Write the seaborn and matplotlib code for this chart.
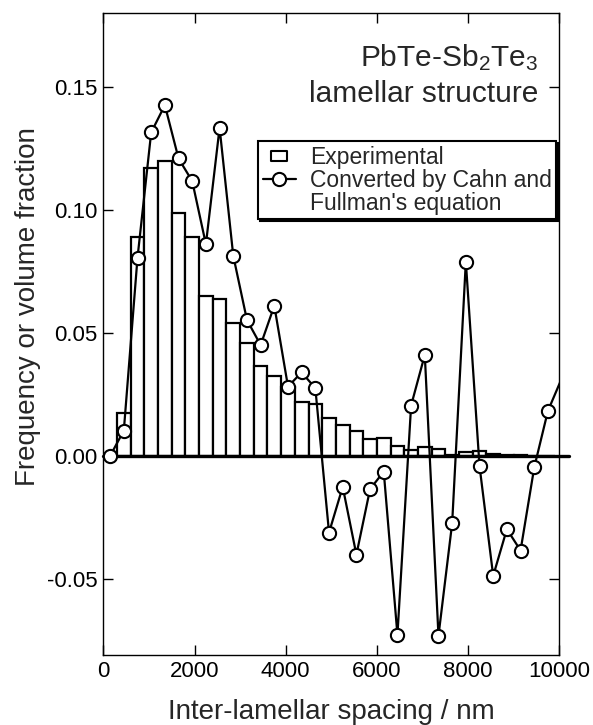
import numpy as np
import pandas as pd
import seaborn as sns
import matplotlib
matplotlib.use("Agg")
import matplotlib.pyplot as plt
from matplotlib.lines import Line2D
from matplotlib.path import Path

# ---------------- data ----------------
bin_width = 300
# Experimental histogram (bins of 300 nm starting at 0)
exp_left = [0, 300, 600, 900, 1200, 1500, 1800, 2100, 2400, 2700, 3000,
            3300, 3600, 3900, 4200, 4500, 4800, 5100, 5400, 5700, 6000,
            6300, 6600, 6900, 7200, 7500, 7800, 8100, 8400, 8700, 9000,
            9300, 9600]
exp_freq = [0.000, 0.0173, 0.0889, 0.117, 0.120, 0.0987, 0.0889, 0.065,
            0.064, 0.054, 0.0458, 0.0366, 0.0325, 0.028, 0.022, 0.021,
            0.0156, 0.0124, 0.0101, 0.0067, 0.0071, 0.0040, 0.0024, 0.0037,
            0.0028, 0.0005, 0.0017, 0.0020, 0.0008, 0.0005, 0.0002, 0.0001,
            0.0000]

# Converted by Cahn and Fullman's equation (at bin centres)
conv_x = [150, 450, 750, 1050, 1350, 1650, 1950, 2250, 2550, 2850, 3150,
          3450, 3750, 4050, 4350, 4650, 4950, 5250, 5550, 5850, 6150, 6450,
          6750, 7050, 7350, 7650, 7950, 8250, 8550, 8850, 9150, 9450, 9750,
          10050]
conv_y = [0.000, 0.0103, 0.0806, 0.1316, 0.1427, 0.121, 0.1118, 0.0861,
          0.1335, 0.0814, 0.0553, 0.0451, 0.0611, 0.0282, 0.034, 0.0275,
          -0.0312, -0.0126, -0.0402, -0.0135, -0.0064, -0.0728, 0.0205,
          0.0411, -0.0732, -0.0274, 0.079, -0.0041, -0.0488, -0.0298,
          -0.0385, -0.0047, 0.0183, 0.0314]

x_ticks = [0, 2000, 4000, 6000, 8000, 10000]
y_ticks = [-0.05, 0.00, 0.05, 0.10, 0.15]
y_tick_labels = ["-0.05", "0.00", "0.05", "0.10", "0.15"]

legend_labels = ["Experimental", "Converted by Cahn and", "Fullman's equation"]

# ---------------- style ----------------
sns.set_theme(style="ticks")
plt.rcParams['font.family'] = ['Liberation Sans', 'DejaVu Sans']
plt.rcParams['mathtext.fontset'] = 'custom'
plt.rcParams['mathtext.rm'] = 'Liberation Sans'
plt.rcParams['mathtext.it'] = 'Liberation Sans:italic'
plt.rcParams['axes.unicode_minus'] = False

fig = plt.figure(figsize=(5.93, 7.25), dpi=100)
ax = fig.add_axes([0.1742, 0.0966, 0.769, 0.8848])

df_exp = pd.DataFrame({"x": np.array(exp_left) + bin_width / 2,
                       "w": exp_freq})
sns.histplot(data=df_exp, x="x", weights="w", binwidth=bin_width,
             binrange=(0, len(exp_left) * bin_width), stat="count",
             element="bars", fill=True, color="white", alpha=1,
             edgecolor="black", linewidth=1.6, ax=ax, zorder=1)

ax.axhline(0, xmin=0, xmax=1.022, color="black", lw=2.4, clip_on=False,
           zorder=2)

df_conv = pd.DataFrame({"x": conv_x, "y": conv_y})
sns.lineplot(data=df_conv, x="x", y="y", sort=False, color="black",
             lw=1.6, marker="o", markersize=9.5, markerfacecolor="white",
             markeredgecolor="black", markeredgewidth=1.5,
             markevery=list(range(len(conv_x) - 1)), ax=ax, zorder=3)

ax.set_xlim(0, 10000)
ax.set_ylim(-0.081, 0.18)
ax.set_xticks(x_ticks)
ax.set_xticklabels([str(t) for t in x_ticks])
ax.set_yticks(y_ticks)
ax.set_yticklabels(y_tick_labels)
ax.tick_params(direction="in", length=7.5, width=1, top=True, right=True,
               labelsize=16, pad=4.3, color="black", labelcolor="black")
for s in ax.spines.values():
    s.set_linewidth(1.0)
    s.set_color("black")

ax.set_xlabel("Inter-lamellar spacing / nm", fontsize=20)
ax.set_ylabel("Frequency or volume fraction", fontsize=20)
ax.xaxis.set_label_coords(0.5, -0.069)
ax.xaxis.label.set_verticalalignment("top")
ax.yaxis.set_label_coords(-0.137, 0.5425)

ax.text(0.9533, 0.918, r"PbTe-Sb$_\mathregular{2}$Te$_\mathregular{3}$",
        transform=ax.transAxes, ha="right", va="baseline", fontsize=21.5)
ax.text(0.9533, 0.862, "lamellar structure", transform=ax.transAxes,
        ha="right", va="baseline", fontsize=21.5)

rect_marker = Path([(-1, -0.56), (1, -0.56), (1, 0.56), (-1, 0.56),
                    (-1, -0.56)],
                   [Path.MOVETO, Path.LINETO, Path.LINETO, Path.LINETO,
                    Path.CLOSEPOLY])
h_exp = Line2D([], [], linestyle="none", marker=rect_marker, markersize=12,
               markerfacecolor="white", markeredgecolor="black",
               markeredgewidth=1.5)
h_conv = Line2D([], [], color="black", lw=1.6, marker="o", markersize=9.5,
                markerfacecolor="white", markeredgecolor="black",
                markeredgewidth=1.5)
h_blank = Line2D([], [], linestyle="none", marker=None, alpha=0)
leg = ax.legend([h_exp, h_conv, h_blank], legend_labels,
                loc="upper right", bbox_to_anchor=(0.993, 0.801),
                fontsize=16.5, frameon=True, fancybox=False, framealpha=1,
                edgecolor="black", handlelength=1.44, handletextpad=0.6,
                borderpad=0.2, labelspacing=0.0, borderaxespad=0,
                shadow={'ox': 1.2, 'oy': -1.2, 'color': 'black', 'alpha': 1})
leg.get_frame().set_linewidth(1.5)

fig.savefig("out.png", dpi=100)
